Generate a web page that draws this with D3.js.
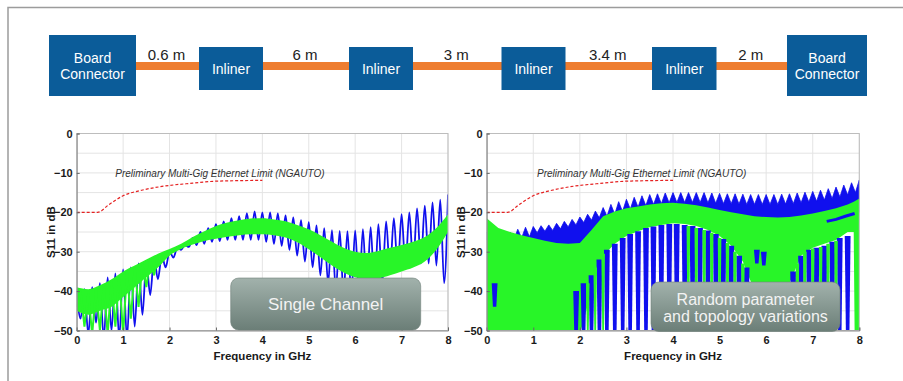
<!DOCTYPE html>
<html>
<head>
<meta charset="utf-8">
<script src="https://cdn.jsdelivr.net/npm/d3@7"></script>
<style>
  body { margin: 0; background: #fff; }
  svg { display: block; font-family: "Liberation Sans", Arial, sans-serif; }
  .tick text { font-weight: bold; font-size: 11px; fill: #1a1a1a; }
</style>
</head>
<body>
<svg id="fig" width="903" height="381"></svg>
<script>
// ---------- data ----------
const nodes = ["Board Connector", "Inliner", "Inliner", "Inliner", "Inliner", "Board Connector"];
const cableLengths = ["0.6 m", "6 m", "3 m", "3.4 m", "2 m"];

const xTicks = [0, 1, 2, 3, 4, 5, 6, 7, 8];
const yTicks = [0, -10, -20, -30, -40, -50];

// limit line (NGAUTO)
const limitF  = [0, 0.45, 0.7, 1.0, 1.4, 1.8, 2.5, 3.0, 4.0];
const limitDb = [-20, -20, -18, -15.8, -14.4, -13.5, -12.6, -12.1, -11.9];

// oscillation extremes are read every 1/12 GHz (peak, trough, peak ...)
const step = 1 / 12;
// envelopes read every 0.25 GHz
const quarter = d3.range(0, 8.001, 0.25);

// left: single channel, blue trace
const leftBlue = [
  -40, -47, -39.5, -51, -39, -48, -38, -52, -36.5, -50, -35.5, -52, -34.5, -52, -34, -49,
  -33, -46, -32.5, -41, -31.5, -37, -31, -34, -30, -31.5, -29, -29.5, -28.3, -28.8, -26.5, -28.3,
  -25, -28, -24, -27.5, -23, -27.3, -22.3, -27, -21.5, -27, -21, -27, -20.2, -27, -19.8, -27,
  -20, -27.5, -20, -28, -20.3, -28.5, -20.8, -29.5, -21.3, -31, -22, -32.5, -22.5, -34, -23.3, -36,
  -24, -38, -24.5, -40, -24.7, -41, -24.8, -41, -24.6, -41, -24.3, -40.5, -23.8, -40, -23, -38,
  -22.3, -35, -21.5, -34.5, -20.5, -34, -20, -33.5, -19, -33, -18.3, -33, -17.5, -33.5, -16.8, -38,
  -15.5
];
// left: green band (top / bottom) and low-frequency green spikes
const leftGreenTop = [-39, -39.5, -38.5, -37, -35, -33.5, -32, -30.5, -29.3, -28, -26.3, -24.8, -23.5, -22.6, -22, -21.6, -21.5,
  -21.8, -22.3, -23.2, -24.3, -25.8, -27.5, -29, -30, -30.3, -29.8, -29, -28.3, -27.5, -26.3, -24, -20.5];
const leftGreenLow = [-45, -46, -45, -44, -41.5, -39, -36.5, -34, -31, -29.3, -28.2, -27.3, -26.7, -26.2, -25.8, -25.6, -25.6,
  -25.8, -26.4, -27.6, -29.4, -31.4, -33.5, -35.3, -36.5, -37, -36.8, -36, -35, -34, -32.5, -29.5, -25];
const leftGreenSpike = [-44, -40, -49, -40.5, -51, -39.5, -50, -38.5, -51, -37.5, -49, -36, -51, -35, -47, -34,
  -44, -33, -39, -32, -36, -31];

// right: random variations, blue upper spikes
const rightBlue = [
  -25, -27, -25.5, -27.5, -25.5, -27.5, -25, -27, -24.3, -26.5, -23.8, -26.2, -23.6, -25.2, -23.4, -24.8,
  -23.2, -24.6, -22.8, -24.2, -22.3, -23.7, -21.8, -23.2, -21.2, -22.6, -20.5, -22, -19.7, -21.4, -18.8, -21,
  -18, -20.5, -17.3, -19.8, -16.7, -19.2, -16.2, -18.7, -15.8, -18.3, -15.5, -18, -15.3, -17.8, -15.1, -17.6,
  -15, -17.5, -15, -17.5, -15, -17.5, -15, -17.5, -15, -17.6, -15.1, -17.7, -15.2, -17.8, -15.3, -17.8,
  -15.3, -17.9, -15.4, -18, -15.5, -18, -15.5, -18, -15.5, -18, -15.5, -18, -15.4, -17.9, -15.3, -17.8,
  -15.1, -17.6, -14.9, -17.4, -14.7, -17.2, -14.4, -16.9, -14, -16.5, -13.6, -16.1, -13.1, -15.6, -12.5, -15,
  -11.8
];
const rightBlueBase = [-27, -27, -27.5, -27.5, -27.7, -28, -28.2, -28.3, -28.2, -26, -23, -22, -21, -20.5, -20, -19.8, -19.8,
  -20, -20.3, -21, -21.5, -22, -23, -24, -25, -25, -25, -24, -23, -22.5, -22, -21, -20];
// right: green mass
const rightGreenF   = [0, 0.25, 0.5, 0.75, 1, 1.25, 1.5, 1.75, 2, 2.25, 2.5, 2.75, 3, 3.25, 3.5, 3.75, 4, 4.25,
  4.5, 4.75, 5, 5.25, 5.5, 5.75, 6, 6.25, 6.5, 6.75, 7, 7.25, 7.5, 7.75, 7.88, 7.9, 8];
const rightGreenTop = [-21.5, -24, -25, -25.8, -26.5, -27.2, -27.8, -28, -27.8, -24.5, -21, -19.8, -19, -18.5, -18, -17.7, -17.6, -17.8,
  -18.2, -18.8, -19.4, -20, -20.5, -21, -21.2, -21.3, -21.2, -20.8, -20.3, -19.7, -19, -18, -17.3, -17.2, -16.5];
const rightGreenLow = [-51, -51, -51, -51, -51, -51, -51, -51, -51, -40, -31, -28, -26, -24.8, -23.8, -23.2, -22.8, -23,
  -23.5, -24.5, -26, -28.5, -32.5, -40, -51, -51, -38, -31, -29, -28, -27, -25, -25, -51, -51];
// right: deep blue resonances
const rightNotchF   = [0.17, 1.92, 2.08, 2.25, 2.42, 2.58, 2.75, 2.92, 3.08, 3.25, 3.42, 3.58, 3.75, 3.92, 4.08, 4.25, 4.42,
  4.58, 4.75, 4.92, 5.08, 5.25, 5.42, 5.58, 5.8, 5.95, 6.58, 6.75, 6.92, 7.08, 7.25, 7.42, 7.58, 7.75];
const rightNotchTop = [-38, -40, -38, -36, -32, -29.5, -28, -26.5, -25.5, -24.8, -24, -23.6, -23.2, -23, -23, -23.2, -23.5,
  -24, -24.6, -25.5, -26.8, -28.5, -31, -34, -29.5, -30, -35, -31, -29.5, -29, -28.5, -27.5, -26.5, -26];
const rightNotchBottom = [-44, -52, -52, -52, -52, -52, -52, -52, -52, -52, -52, -52, -52, -52, -52, -52, -52,
  -52, -52, -52, -52, -52, -52, -52, -33, -33.5, -52, -52, -52, -52, -52, -52, -52, -52];
// right: green resonances in the open area
const rightGNotchF   = [2.17, 2.33, 2.5, 4.33, 4.5, 4.67, 4.83, 5.0, 5.17, 5.33, 5.5, 6.67, 6.83, 7.0, 7.17, 7.33, 7.5];
const rightGNotchTop = [-38, -34, -30.5, -23.5, -24, -24.5, -25.2, -26.5, -27.8, -30, -33, -33, -30, -29.2, -28.8, -28, -27.2];
// right: short blue trace near 7.3-7.9 GHz
const rightWormF  = [7.3, 7.5, 7.7, 7.9];
const rightWormDb = [-22.3, -21.8, -21, -20.3];

// ---------- layout ----------
const BLUE = "#1010ee", GREEN = "#28f528";
const svg = d3.select("#fig");
const defs = svg.append("defs");

const grad = defs.append("linearGradient").attr("id", "boxfill")
  .attr("x1", 0).attr("y1", 0).attr("x2", 0).attr("y2", 1);
grad.append("stop").attr("offset", "0%").attr("stop-color", "#a2b2ac");
grad.append("stop").attr("offset", "100%").attr("stop-color", "#6b7e77");

// outer frame
svg.append("path").attr("d", "M8,381V7.5H903")
  .attr("fill", "none").attr("stroke", "#9c9c9c").attr("stroke-width", 1.5);

// ---------- cable diagram ----------
const nodeX = [49, 199, 349, 501.5, 652, 787];
const nodeW = [87, 64, 64, 64, 64.5, 80];
const lineY = 66;

svg.append("line")
  .attr("x1", nodeX[0] + nodeW[0]).attr("x2", nodeX[5])
  .attr("y1", lineY).attr("y2", lineY)
  .attr("stroke", "#ee7d30").attr("stroke-width", 8);

cableLengths.forEach((t, i) => {
  const a = nodeX[i] + nodeW[i], b = nodeX[i + 1];
  svg.append("text").text(t)
    .attr("x", (a + b) / 2 - 1).attr("y", 59.5)
    .attr("text-anchor", "middle").attr("font-size", 15).attr("fill", "#222");
});

nodes.forEach((n, i) => {
  const board = n.startsWith("Board");
  const h = board ? 61 : 43, top = board ? 35 : 47;
  svg.append("rect").attr("x", nodeX[i]).attr("y", top)
    .attr("width", nodeW[i]).attr("height", h).attr("fill", "#0b5c99");
  const t = svg.append("text").attr("text-anchor", "middle")
    .attr("font-size", 14).attr("fill", "#fff");
  const cx = nodeX[i] + nodeW[i] / 2;
  if (board) {
    const words = n.split(" ");
    t.append("tspan").attr("x", cx).attr("y", 63.3).text(words[0]);
    t.append("tspan").attr("x", cx).attr("y", 79.3).text(words[1]);
  } else {
    t.attr("x", cx).attr("y", 74).text(n);
  }
});

// ---------- charts ----------
function drawChart(box, name, drawTraces, labelF, note) {
  const x = d3.scaleLinear().domain([0, 8]).range([box.x0, box.x1]);
  const y = d3.scaleLinear().domain([-50, 0]).range([box.y1, box.y0]);
  const g = svg.append("g");

  defs.append("clipPath").attr("id", "clip-" + name).append("rect")
    .attr("x", box.x0).attr("y", box.y0)
    .attr("width", box.x1 - box.x0).attr("height", box.y1 - box.y0);

  // grid
  g.append("g").selectAll("line").data(y.ticks(10)).join("line")
    .attr("x1", box.x0).attr("x2", box.x1)
    .attr("y1", d => y(d)).attr("y2", d => y(d))
    .attr("stroke", "#e4e4e4").attr("stroke-width", 1);
  g.append("g").selectAll("line").data(xTicks).join("line")
    .attr("x1", d => x(d)).attr("x2", d => x(d))
    .attr("y1", box.y0).attr("y2", box.y1)
    .attr("stroke", "#e4e4e4").attr("stroke-width", 1);

  const plot = g.append("g").attr("clip-path", `url(#clip-${name})`);
  drawTraces(plot, x, y);

  // limit line
  plot.append("path")
    .datum(limitF.map((f, i) => [f, limitDb[i]]))
    .attr("d", d3.line().x(d => x(d[0])).y(d => y(d[1])).curve(d3.curveMonotoneX))
    .attr("fill", "none").attr("stroke", "#e52222")
    .attr("stroke-width", 1.2).attr("stroke-dasharray", "3,2");

  g.append("text").text("Preliminary Multi-Gig Ethernet Limit (NGAUTO)")
    .attr("x", x(labelF)).attr("y", y(-11))
    .attr("font-size", 10).attr("font-style", "italic").attr("fill", "#333");

  // border
  g.append("rect").attr("x", box.x0).attr("y", box.y0)
    .attr("width", box.x1 - box.x0).attr("height", box.y1 - box.y0)
    .attr("fill", "none").attr("stroke", "#bdbdbd").attr("stroke-width", 1);

  // axes
  const ax = g.append("g").attr("transform", `translate(0,${box.y1})`)
    .call(d3.axisBottom(x).tickValues(xTicks).tickSize(-3).tickPadding(6));
  const ay = g.append("g").attr("transform", `translate(${box.x0},0)`)
    .call(d3.axisLeft(y).tickValues(yTicks).tickSize(-3).tickPadding(4));
  [ax, ay].forEach(a => {
    a.select(".domain").attr("stroke", "#8c8c8c");
    a.selectAll(".tick line").attr("stroke", "#666");
  });

  g.append("text").text("Frequency in GHz")
    .attr("x", (box.x0 + box.x1) / 2).attr("y", 360)
    .attr("text-anchor", "middle").attr("font-size", 11.5)
    .attr("font-weight", "bold").attr("fill", "#1a1a1a");
  g.append("text").text("S11 in dB")
    .attr("transform", `translate(${box.x0 - 26},${(box.y0 + box.y1) / 2}) rotate(-90)`)
    .attr("text-anchor", "middle").attr("dominant-baseline", "central")
    .attr("font-size", 11.5).attr("font-weight", "bold").attr("fill", "#1a1a1a");

  // overlay note
  g.append("rect").attr("x", note.x).attr("y", note.y)
    .attr("width", note.w).attr("height", note.h).attr("rx", 8)
    .attr("fill", "url(#boxfill)").attr("stroke", "#70827b").attr("stroke-width", 0.6);
  const nt = g.append("text").attr("text-anchor", "middle")
    .attr("font-size", note.size).attr("fill", "#f3f3f3");
  note.lines.forEach((l, i) => {
    nt.append("tspan").attr("x", note.x + note.w / 2).attr("y", note.base[i]).text(l);
  });
}

function notch(x, y, f, top, bottom, wTop, wBot) {
  const cx = x(f), yt = y(top), yb = y(bottom);
  return `M${cx - wTop},${yt}L${cx + wTop},${yt}L${cx + wBot},${yb}L${cx - wBot},${yb}Z`;
}

drawChart({ x0: 76.7, x1: 448, y0: 133.5, y1: 330.5 }, "left", (p, x, y) => {
  p.append("path").datum(leftBlue)
    .attr("d", d3.line().x((d, i) => x(i * step)).y(d => y(d)).curve(d3.curveMonotoneX))
    .attr("fill", "none").attr("stroke", BLUE).attr("stroke-width", 1.8);
  p.append("path").datum(leftGreenTop)
    .attr("d", d3.area().x((d, i) => x(quarter[i]))
      .y0((d, i) => y(leftGreenLow[i])).y1(d => y(d)).curve(d3.curveMonotoneX))
    .attr("fill", GREEN);
  p.append("path").datum(leftGreenSpike)
    .attr("d", d3.line().x((d, i) => x(i * step)).y(d => y(d)))
    .attr("fill", "none").attr("stroke", GREEN).attr("stroke-width", 2);
}, 0.83, {
  x: 230.7, y: 278, w: 190, h: 52, size: 17,
  lines: ["Single Channel"], base: [309.5]
});

drawChart({ x0: 486.7, x1: 859.3, y0: 133.5, y1: 330.5 }, "right", (p, x, y) => {
  const pts = rightBlue.map((v, i) => [i * step, v])
    .concat(quarter.map((f, i) => [f, rightBlueBase[i]]).reverse());
  p.append("path")
    .attr("d", d3.line().x(d => x(d[0])).y(d => y(d[1]))(pts) + "Z")
    .attr("fill", BLUE).attr("stroke", BLUE).attr("stroke-width", 0.8);
  p.append("path").datum(rightGreenTop)
    .attr("d", d3.area().x((d, i) => x(rightGreenF[i]))
      .y0((d, i) => y(rightGreenLow[i])).y1(d => y(d)))
    .attr("fill", GREEN);
  p.append("g").selectAll("path").data(rightNotchF).join("path")
    .attr("d", (f, i) => notch(x, y, f, rightNotchTop[i], rightNotchBottom[i], 2.9, 1.7))
    .attr("fill", BLUE);
  p.append("g").selectAll("path").data(rightGNotchF).join("path")
    .attr("d", (f, i) => notch(x, y, f, rightGNotchTop[i], -52, 1.8, 0.8))
    .attr("fill", GREEN);
  p.append("path").datum(rightWormF.map((f, i) => [f, rightWormDb[i]]))
    .attr("d", d3.line().x(d => x(d[0])).y(d => y(d[1])))
    .attr("fill", "none").attr("stroke", BLUE).attr("stroke-width", 3);
}, 1.08, {
  x: 651, y: 282, w: 189, h: 49.5, size: 16,
  lines: ["Random parameter", "and topology variations"], base: [304.5, 322]
});
</script>
</body>
</html>
